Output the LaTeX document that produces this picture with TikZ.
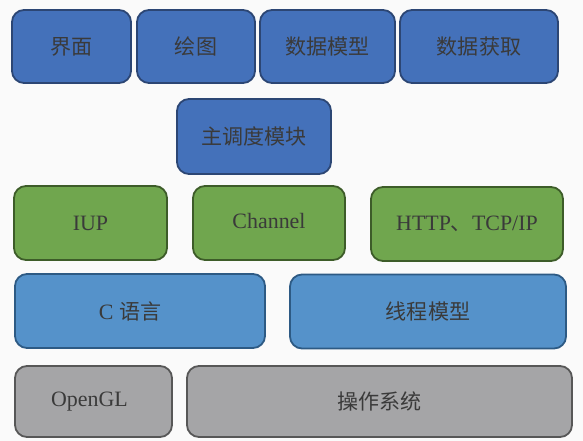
\documentclass[tikz,border=0pt]{standalone}
\usepackage{fontspec}
\setmainfont{Liberation Serif}
\newfontfamily\cjk[Scale=0.96]{Noto Sans CJK SC}

\definecolor{topfill}{HTML}{4471BA}
\definecolor{topline}{HTML}{2C4674}
\definecolor{midfill}{HTML}{70A64E}
\definecolor{midline}{HTML}{3D5C29}
\definecolor{langfill}{HTML}{5592CA}
\definecolor{langline}{HTML}{2D5A84}
\definecolor{osfill}{HTML}{A5A5A7}
\definecolor{osline}{HTML}{575757}
\definecolor{txt}{HTML}{3A3A3A}

\begin{document}
\begin{tikzpicture}[x=1bp, y=-1bp]

  \tikzstyle{layer}=[rounded corners=12bp, line width=1.8bp, text=txt,
    font=\fontsize{22}{26}\selectfont, inner sep=0pt]
  \tikzstyle{appbox}=[layer, draw=topline, fill=topfill]
  \tikzstyle{libbox}=[layer, draw=midline, fill=midfill]
  \tikzstyle{langbox}=[layer, draw=langline, fill=langfill]
  \tikzstyle{osbox}=[layer, draw=osline, fill=osfill]

  \useasboundingbox[fill={rgb,255:red,250;green,250;blue,250}] (0,0) rectangle (583,441);

  % application layer
  \node[appbox, minimum width=119bp, minimum height=73bp] (jiemian) at (71.5,46.5) {\cjk 界面};
  \node[appbox, minimum width=118bp, minimum height=73bp] (huitu) at (196,46.5) {\cjk 绘图};
  \node[appbox, minimum width=135bp, minimum height=73bp] (moxing) at (327.5,46.5) {\cjk 数据模型};
  \node[appbox, minimum width=158bp, minimum height=73bp] (huoqu) at (479,46.5) {\cjk 数据获取};

  % scheduler
  \node[appbox, minimum width=154bp, minimum height=75bp] (diaodu) at (254,136.5) {\cjk 主调度模块};

  % libraries
  \node[libbox, minimum width=153bp, minimum height=74bp] (iup) at (90.5,223) {IUP};
  \node[libbox, minimum width=152bp, minimum height=74bp] (channel) at (269,223) {\raisebox{4bp}{Channel}};
  \node[libbox, minimum width=192bp, minimum height=74bp] (http) at (467,224) {HTTP{\cjk 、}TCP/IP};

  % language and threads
  \node[langbox, minimum width=250bp, minimum height=74bp] (clang) at (140,311) {\hspace*{-20bp}C {\cjk 语言}};
  \node[langbox, minimum width=276bp, minimum height=74bp] (xiancheng) at (428,311.5) {\cjk 线程模型};

  % system
  \node[osbox, minimum width=157bp, minimum height=71bp] (opengl) at (93.5,401.5) {\hspace*{-8bp}\raisebox{-2bp}{OpenGL}};
  \node[osbox, minimum width=385bp, minimum height=71bp] (xitong) at (379.5,401.5) {\cjk 操作系统};

\end{tikzpicture}
\end{document}
